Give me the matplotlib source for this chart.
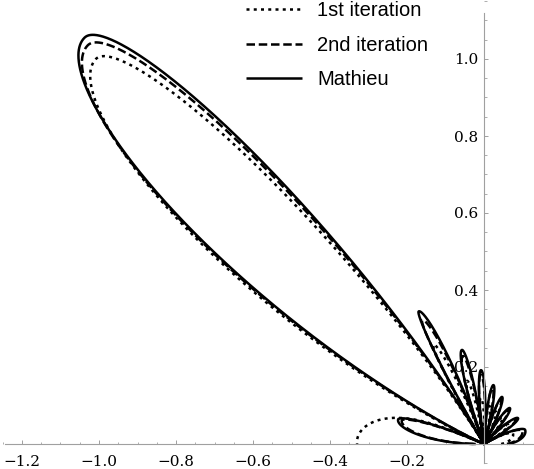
import numpy as np
import matplotlib
matplotlib.use("Agg")
import matplotlib.pyplot as plt
from matplotlib.ticker import MultipleLocator, FixedLocator

# lobe description of each pattern (angles in degrees)
# nulls bound each lobe, peaks give the lobe direction, radii the lobe length
mathieu_nulls = [-8, 29.3, 46.3, 61.8, 75.0, 86.6, 97.7, 109.6, 120.0, 156.0, 181.0]
mathieu_peaks = [18.9, 37.2, 54.2, 69.0, 80.9, 92.3, 103.2, 116.2, 134.5, 164.0]
mathieu_radii = [0.113, 0.111, 0.115, 0.131, 0.155, 0.192, 0.251, 0.384, 1.48, 0.232]
mathieu_shape = [0.7, 0.7, 0.7, 0.7, 0.7, 0.7, 0.75, 0.85, 1.8, 1]

second_nulls = [-8, 29.5, 46.5, 62.0, 75.3, 86.9, 98.0, 110.0, 120.3, 156.3, 181.0]
second_peaks = [19.2, 37.5, 54.5, 69.3, 81.2, 92.6, 103.5, 116.5, 134.8, 164.0]
second_radii = [0.105, 0.104, 0.108, 0.123, 0.146, 0.180, 0.235, 0.36, 1.46, 0.222]
second_shape = [0.7, 0.7, 0.7, 0.7, 0.7, 0.7, 0.75, 0.85, 1.8, 1]

first_nulls = [-8, 30.0, 47.0, 63.0, 76.0, 88.0, 99.5, 111.0, 121.0, 157.0, 199.0]
first_peaks = [20.0, 38.0, 55.5, 70.0, 82.0, 94.0, 105.0, 117.0, 135.2, 179.0]
first_radii = [0.08, 0.08, 0.085, 0.09, 0.10, 0.12, 0.17, 0.29, 1.42, 0.33]
first_shape = [0.7, 0.7, 0.7, 0.7, 0.7, 0.7, 0.75, 0.85, 1.8, 0.4]

labels = ["1st iteration", "2nd iteration", "Mathieu"]
x_ticks = [-1.2, -1.0, -0.8, -0.6, -0.4, -0.2]
y_ticks = [0.2, 0.4, 0.6, 0.8, 1.0]


def pattern(theta, nulls, peaks, radii, shape):
    """ Radius of the lobe pattern at the angles theta (degrees). """
    r = np.zeros_like(theta)
    for i in range(len(peaks)):
        a, b, c = nulls[i], nulls[i + 1], peaks[i]
        up = (theta >= a) & (theta <= c)
        down = (theta > c) & (theta <= b)
        r[up] += radii[i] * np.sin(np.pi / 2 * (theta[up] - a) / (c - a)) ** shape[i]
        r[down] += radii[i] * np.sin(np.pi / 2 * (b - theta[down]) / (b - c)) ** shape[i]
    return r


theta = np.linspace(0, 180, 6000)
series = [
    (first_nulls, first_peaks, first_radii, first_shape, (0, (1.2, 1.7))),
    (second_nulls, second_peaks, second_radii, second_shape, (0, (3.4, 1.5))),
    (mathieu_nulls, mathieu_peaks, mathieu_radii, mathieu_shape, "-"),
]

W, H, dpi = 534, 469, 100
fig = plt.figure(figsize=(W / dpi, H / dpi), dpi=dpi)
ax = fig.add_axes([0, 0, 1, 1])

scale = 385.0
ox, oy = 484, 444
ax.set_xlim(-ox / scale, (W - ox) / scale)
ax.set_ylim(-(H - oy) / scale, oy / scale)
ax.set_aspect("equal")

for (nulls, peaks, radii, shape, ls), lab in zip(series, labels):
    r = pattern(theta, nulls, peaks, radii, shape)
    t = np.radians(theta)
    ax.plot(r * np.cos(t), r * np.sin(t), color="black", lw=1.8, ls=ls, label=lab,
            solid_capstyle="butt", dash_capstyle="butt")

# axes through the origin
for side in ["top", "right"]:
    ax.spines[side].set_visible(False)
ax.spines["left"].set_position(("data", 0))
ax.spines["bottom"].set_position(("data", 0))
ax.spines["left"].set_bounds(-0.05, 1.12)
ax.spines["bottom"].set_bounds(-1.245, 0.13)
for side in ["left", "bottom"]:
    ax.spines[side].set_color("#a0a0a0")
    ax.spines[side].set_linewidth(0.8)

ax.xaxis.set_major_locator(FixedLocator(x_ticks + [0.0]))
ax.yaxis.set_major_locator(FixedLocator(y_ticks + [0.0]))
ax.xaxis.set_minor_locator(MultipleLocator(0.05))
ax.yaxis.set_minor_locator(MultipleLocator(0.05))
ax.set_xticklabels(["\u2212%.1f" % abs(v) for v in x_ticks] + [""])
ax.set_yticklabels(["%.1f" % v for v in y_ticks] + [""])
ax.tick_params(which="major", direction="in", length=3.2, width=0.7, color="#a0a0a0",
               labelsize=11, pad=8)
ax.tick_params(which="minor", direction="in", length=1.8, width=0.6, color="#a0a0a0")
ax.tick_params(axis="y", which="major", pad=4)
for lbl in ax.get_xticklabels() + ax.get_yticklabels():
    lbl.set_family("DejaVu Serif")

leg = ax.legend(loc="upper left", bbox_to_anchor=(246 / W, 1 - 1 / H), frameon=False,
                prop={"family": "Liberation Sans", "size": 14.5}, handlelength=2.8,
                handletextpad=0.75, labelspacing=0.78, borderpad=0, borderaxespad=0)

fig.savefig("out.png", dpi=dpi, facecolor="white")
